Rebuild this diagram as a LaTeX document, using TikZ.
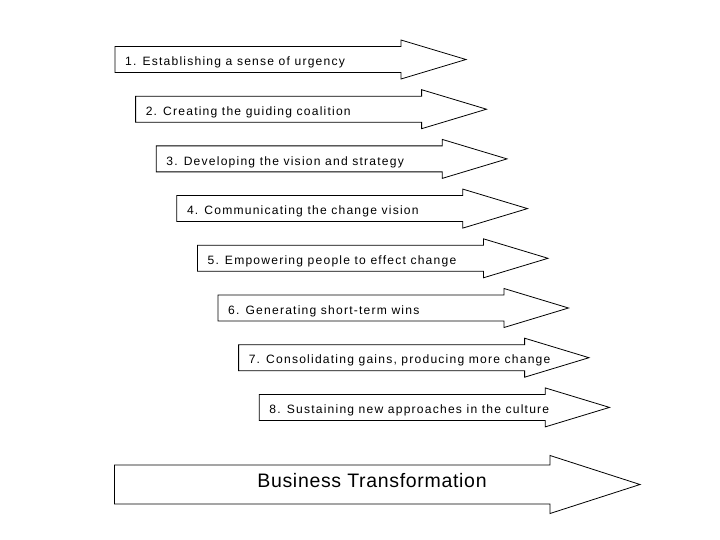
\documentclass[tikz,border=0pt]{standalone}
\usepackage{fontspec}
\setmainfont{Liberation Sans}
\begin{document}
\begin{tikzpicture}[x=1pt,y=-1pt,
  arrowshape/.style={draw=black, line width=0.8pt, fill=white, line join=miter},
  steplabel/.style={anchor=base west, inner sep=0pt, font=\fontsize{12.1}{14}\selectfont\addfontfeature{LetterSpace=10}},
  biglabel/.style={anchor=base, inner sep=0pt, font=\fontsize{19.5}{22}\selectfont\addfontfeature{LetterSpace=3.5}}]
\useasboundingbox[fill=white] (0,0) rectangle (720,540);
\foreach \t [count=\i from 0] in {
  {1. Establishing a sense of urgency},
  {2. Creating the guiding coalition},
  {3. Developing the vision and strategy},
  {4. Communicating the change vision},
  {5. Empowering people to effect change},
  {6. Generating short-term wins},
  {7. Consolidating gains, producing more change},
  {8. Sustaining new approaches in the culture}} {
  \pgfmathsetmacro\L{115+20.6*\i}
  \pgfmathsetmacro\H{401+20.6*\i}
  \pgfmathsetmacro\T{466+20.5*\i}
  \pgfmathsetmacro\C{59.5+49.7*\i}
  \draw[arrowshape] (\L,\C-13) coordinate (tail\i) -- (\H,\C-13) -- (\H,\C-19.5)
     -- (\T,\C) coordinate (tip\i) -- (\H,\C+19.5) -- (\H,\C+13) -- (\L,\C+13) -- cycle;
  \node[steplabel] (label\i) at (\L+10,\C+6.2) {\t};
}
\draw[arrowshape] (114.5,465) -- (550,465) -- (550,455.5) -- (640,484.5) coordinate (bigtip)
   -- (550,513.5) -- (550,504) -- (114.5,504) -- cycle;
\node[biglabel] (business) at (372,487.3) {Business Transformation};
\end{tikzpicture}
\end{document}
